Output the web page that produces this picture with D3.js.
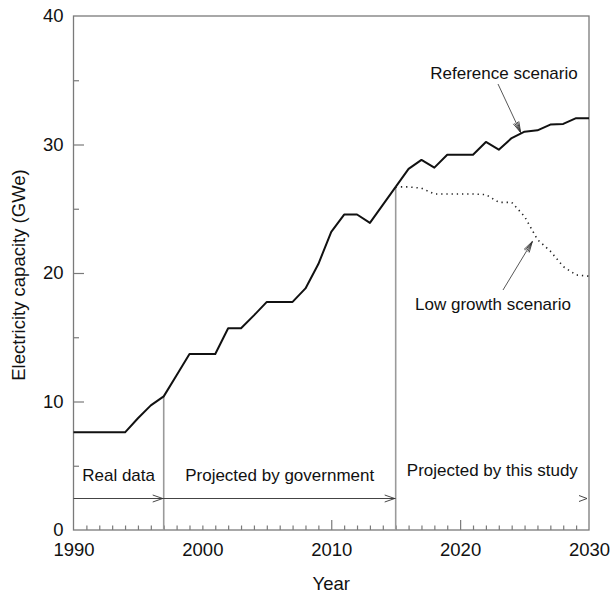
<!DOCTYPE html>
<html>
<head>
<meta charset="utf-8">
<script src="https://cdn.jsdelivr.net/npm/d3@7/dist/d3.min.js"></script>
<style>
  html, body { margin: 0; padding: 0; background: #fff; }
  svg { display: block; font-family: "Liberation Sans", Arial, sans-serif; }
</style>
</head>
<body>
<svg id="chart" width="613" height="598"></svg>
<script>
// Installed electricity capacity (GWe), one value per year
const years = d3.range(1990, 2031);
const referenceScenario = [
  7.6, 7.6, 7.6, 7.6, 7.6, 8.7, 9.7, 10.4, 12.05, 13.7,
  13.7, 13.7, 15.7, 15.7, 16.7, 17.75, 17.75, 17.75, 18.8, 20.7,
  23.2, 24.55, 24.55, 23.9, 25.3, 26.7, 28.1, 28.8, 28.2, 29.2,
  29.2, 29.2, 30.2, 29.6, 30.5, 31.0, 31.1, 31.55, 31.6, 32.05,
  32.05
];
const lowGrowthYears = d3.range(2015, 2031);
const lowGrowthScenario = [
  26.7, 26.7, 26.6, 26.15, 26.15, 26.15, 26.15, 26.1, 25.5, 25.5,
  24.4, 22.6, 21.7, 20.5, 19.85, 19.75
];
const xTicks = [1990, 2000, 2010, 2020, 2030];
const yTicks = [0, 10, 20, 30, 40];
const periodBounds = [1990, 1997, 2015, 2030];
const periodLabels = ["Real data", "Projected by government", "Projected by this study"];

const svg = d3.select("#chart");
const plot = { left: 73.5, right: 589, top: 16, bottom: 530 };

const x = d3.scaleLinear().domain([1990, 2030]).range([plot.left, plot.right]);
const y = d3.scaleLinear().domain([0, 40]).range([plot.bottom, plot.top]);

const axisColor = "#7a7a7a";

// Frame
svg.append("rect")
  .attr("x", plot.left).attr("y", plot.top)
  .attr("width", plot.right - plot.left).attr("height", plot.bottom - plot.top)
  .attr("fill", "none").attr("stroke", axisColor).attr("stroke-width", 1.3);

// Inward ticks on the year axis: every year, taller at 2010 and 2020
const xAxis = d3.axisBottom(x)
  .tickValues(d3.range(1991, 2030))
  .tickSizeInner(0).tickSizeOuter(0).tickFormat("");
const gx = svg.append("g").attr("transform", `translate(0,${plot.bottom})`).call(xAxis);
gx.select(".domain").remove();
gx.selectAll(".tick line")
  .attr("y2", d => (d === 2010 || d === 2020) ? -10 : -4.5)
  .attr("stroke", axisColor).attr("stroke-width", 1.2);

// Year labels
const gxl = svg.append("g").attr("transform", `translate(0,${plot.bottom})`)
  .call(d3.axisBottom(x).tickValues(xTicks).tickSize(0).tickPadding(0).tickFormat(d3.format("d")));
gxl.select(".domain").remove();
gxl.selectAll("text")
  .attr("y", 26).attr("dy", 0)
  .attr("font-size", 18.5).attr("font-family", "Liberation Sans, Arial, sans-serif")
  .attr("fill", "#111");

// Inward ticks on the capacity axis: long at 10s, short at 5s
const yAxis = d3.axisLeft(y)
  .tickValues([5, 10, 15, 20, 25, 30, 35])
  .tickSizeInner(0).tickSizeOuter(0).tickFormat("");
const gy = svg.append("g").attr("transform", `translate(${plot.left},0)`).call(yAxis);
gy.select(".domain").remove();
gy.selectAll(".tick line")
  .attr("x2", d => d % 10 === 0 ? 10.5 : 5.5)
  .attr("stroke", axisColor).attr("stroke-width", 1.2);

const gyl = svg.append("g").attr("transform", `translate(${plot.left},0)`)
  .call(d3.axisLeft(y).tickValues(yTicks).tickSize(0).tickPadding(10).tickFormat(d3.format("d")));
gyl.select(".domain").remove();
gyl.selectAll("text")
  .attr("font-size", 18.5).attr("font-family", "Liberation Sans, Arial, sans-serif")
  .attr("fill", "#111");

// Axis titles
svg.append("text")
  .attr("x", (plot.left + plot.right) / 2).attr("y", 590)
  .attr("text-anchor", "middle").attr("font-size", 18.5).attr("fill", "#111")
  .text("Year");
svg.append("text")
  .attr("transform", `translate(25,${(plot.top + plot.bottom) / 2 + 2}) rotate(-90)`)
  .attr("text-anchor", "middle").attr("font-size", 18.5).attr("fill", "#111")
  .text("Electricity capacity (GWe)");

// Period dividers, rising from the axis to the curve
const valueAt = yr => referenceScenario[years.indexOf(yr)];
[1997, 2015].forEach(yr => {
  svg.append("line")
    .attr("x1", x(yr)).attr("x2", x(yr))
    .attr("y1", y(0)).attr("y2", y(valueAt(yr)))
    .attr("stroke", "#9a9a9a").attr("stroke-width", 1.6);
});

// Open chevron arrowhead pointing along angle (radians) at (px, py)
function chevron(g, px, py, angle, len, half) {
  const c = Math.cos(angle), s = Math.sin(angle);
  const bx = px - c * len, by = py - s * len;
  const pts = [
    [bx - s * half, by + c * half],
    [px, py],
    [bx + s * half, by - c * half]
  ];
  g.append("path")
    .attr("d", d3.line()(pts))
    .attr("fill", "none").attr("stroke", "#333").attr("stroke-width", 0.9);
}

// Period arrows along the bottom
const arrowY = 498.5;
const periods = svg.append("g");
periods.append("line")
  .attr("x1", x(periodBounds[0])).attr("x2", x(periodBounds[2]))
  .attr("y1", arrowY).attr("y2", arrowY)
  .attr("stroke", "#444").attr("stroke-width", 1);
chevron(periods, x(periodBounds[1]) - 1, arrowY, 0, 10, 3.5);
chevron(periods, x(periodBounds[2]) - 1, arrowY, 0, 10, 3.5);
chevron(periods, x(periodBounds[3]) - 2, arrowY, 0, 8, 3);

const periodLabelY = [481, 481, 476];
periodLabels.forEach((label, i) => {
  svg.append("text")
    .attr("x", (x(periodBounds[i]) + x(periodBounds[i + 1])) / 2)
    .attr("y", periodLabelY[i])
    .attr("text-anchor", "middle").attr("font-size", 17).attr("fill", "#111")
    .text(label);
});

// Scenario curves
const refLine = d3.line().x((d, i) => x(years[i])).y(d => y(d));
svg.append("path")
  .datum(referenceScenario)
  .attr("d", refLine)
  .attr("fill", "none").attr("stroke", "#111").attr("stroke-width", 2)
  .attr("stroke-linejoin", "round");

const lowLine = d3.line().x((d, i) => x(lowGrowthYears[i])).y(d => y(d));
svg.append("path")
  .datum(lowGrowthScenario)
  .attr("d", lowLine)
  .attr("fill", "none").attr("stroke", "#222").attr("stroke-width", 1.6)
  .attr("stroke-dasharray", "1.3,3.9");

// Annotations with leader arrows
function annotate(label, tx, ty, from, to) {
  svg.append("text")
    .attr("x", tx).attr("y", ty)
    .attr("text-anchor", "middle").attr("font-size", 17).attr("fill", "#111")
    .text(label);
  const g = svg.append("g");
  g.append("line")
    .attr("x1", from[0]).attr("y1", from[1]).attr("x2", to[0]).attr("y2", to[1])
    .attr("stroke", "#444").attr("stroke-width", 0.9);
  const ang = Math.atan2(to[1] - from[1], to[0] - from[0]);
  chevron(g, to[0], to[1], ang, 11, 3);
  chevron(g, to[0], to[1], ang, 11, 1.5);
}

annotate("Reference scenario", 504, 79,
  [498, 84], [x(2024.7), y(30.85) - 1]);
annotate("Low growth scenario", 493, 310,
  [503, 290], [x(2025.6), y(22.6) + 2]);
</script>
</body>
</html>
